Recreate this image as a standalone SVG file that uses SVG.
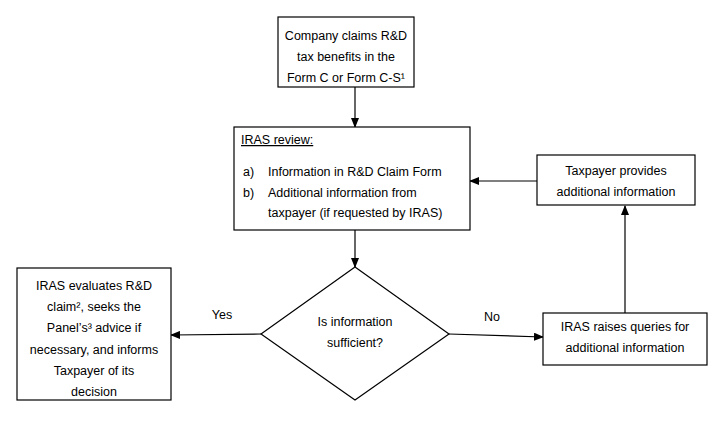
<svg xmlns="http://www.w3.org/2000/svg" width="720" height="423" viewBox="0 0 720 423">
<defs>
<marker id="ah" markerWidth="10" markerHeight="8" refX="9" refY="4" orient="auto" markerUnits="userSpaceOnUse"><path d="M0,0 L10,4 L0,8 Z" fill="#000"/></marker>
<style>
.b{fill:#fff;stroke:#000;stroke-width:1.2}
text{font-family:"Liberation Sans",Arial,sans-serif;font-size:12.5px;fill:#000}
.c{text-anchor:middle}
.l{stroke:#000;stroke-width:1.2;fill:none;marker-end:url(#ah)}
</style>
</defs>
<rect width="720" height="423" fill="#fff"/>
<g id="connectors">
<line class="l" x1="355" y1="87" x2="355" y2="127"/>
<line class="l" x1="355" y1="230" x2="355" y2="267"/>
<line class="l" x1="261" y1="334" x2="171" y2="335"/>
<line class="l" x1="449" y1="334" x2="543" y2="337"/>
<line class="l" x1="625" y1="313" x2="625" y2="206"/>
<line class="l" x1="537" y1="181" x2="470" y2="181"/>
<text x="222" y="319" class="c">Yes</text>
<text x="492" y="321" class="c">No</text>
</g>
<g id="start"><rect class="b" x="278" y="17" width="136" height="70"/>
<text class="c" x="346" y="40">Company claims R&amp;D</text>
<text class="c" x="346" y="61">tax benefits in the</text>
<text class="c" x="346" y="82">Form C or Form C-S¹</text></g>
<g id="review"><rect class="b" x="234" y="127" width="236" height="103"/>
<text x="241" y="144" text-decoration="underline">IRAS review:</text>
<text x="243" y="176">a)</text><text x="268" y="176">Information in R&amp;D Claim Form</text>
<text x="243" y="197">b)</text><text x="268" y="197">Additional information from</text>
<text x="268" y="217">taxpayer (if requested by IRAS)</text></g>
<g id="decision"><polygon class="b" points="355,267 449,334 355,400 261,334"/>
<text class="c" x="355" y="326">Is information</text>
<text class="c" x="355" y="347">sufficient?</text></g>
<g id="evaluate"><rect class="b" x="17" y="268" width="154" height="132"/>
<text class="c" x="94" y="290">IRAS evaluates R&amp;D</text>
<text class="c" x="94" y="311">claim², seeks the</text>
<text class="c" x="94" y="332">Panel’s³ advice if</text>
<text class="c" x="94" y="354">necessary, and informs</text>
<text class="c" x="94" y="375">Taxpayer of its</text>
<text class="c" x="94" y="396">decision</text></g>
<g id="queries"><rect class="b" x="543" y="313" width="164" height="52"/>
<text class="c" x="625" y="331">IRAS raises queries for</text>
<text class="c" x="625" y="352">additional information</text></g>
<g id="provides"><rect class="b" x="537" y="155" width="158" height="50"/>
<text class="c" x="616" y="175">Taxpayer provides</text>
<text class="c" x="616" y="196">additional information</text></g>
</svg>
